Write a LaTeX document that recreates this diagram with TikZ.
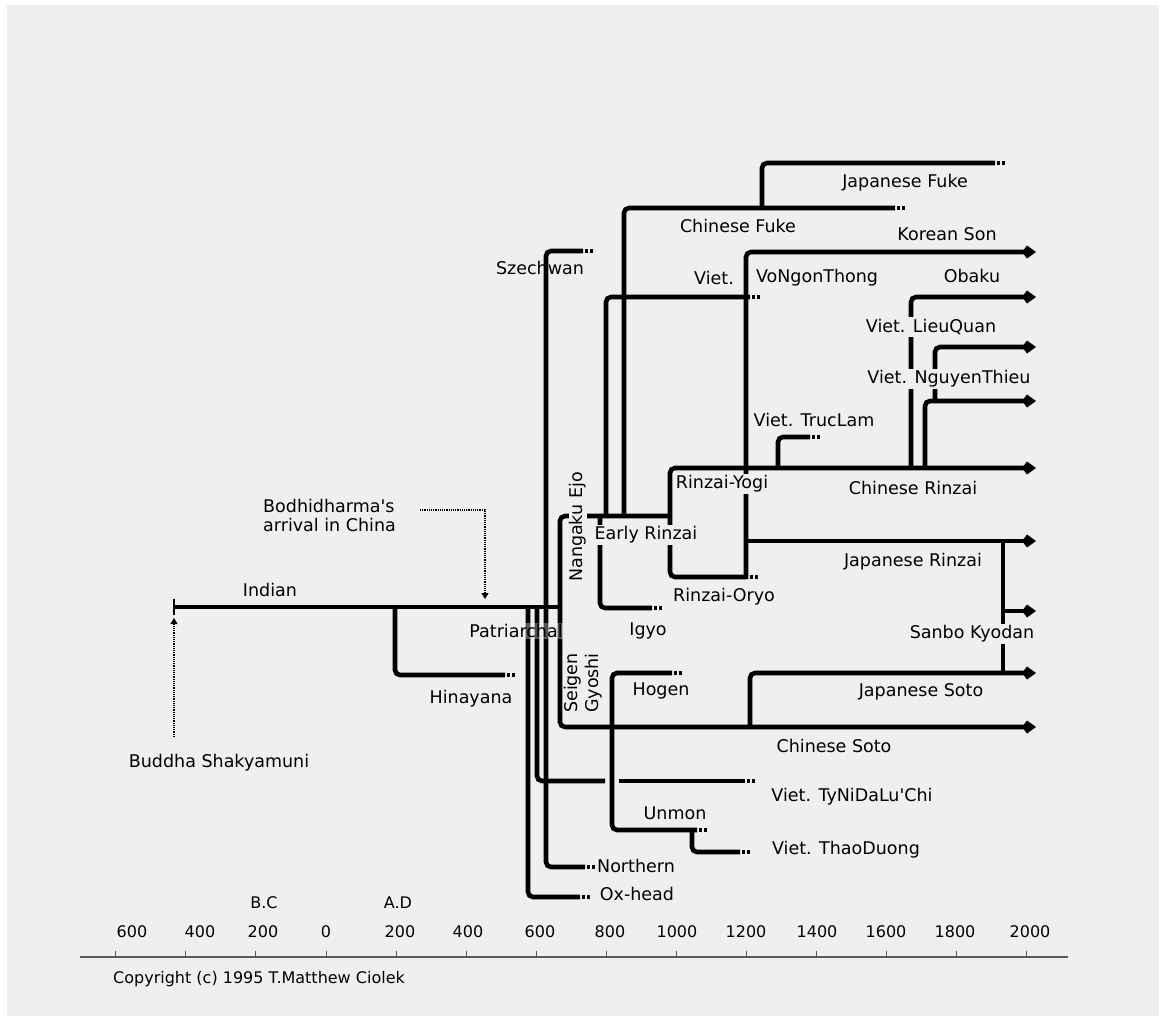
\documentclass[tikz,border=0pt]{standalone}
\usepackage{fontspec}
\setmainfont{DejaVu Sans}
\usetikzlibrary{arrows.meta}
\definecolor{bg}{HTML}{EFEFEF}
\newcommand\lblfont{\fontsize{17.5}{19}\selectfont}
\newcommand\axfont{\fontsize{16}{18}\selectfont}
\begin{document}
\begin{tikzpicture}[x=1pt,y=-1pt,
  lin/.style={line width=4.6pt, rounded corners=5pt},
  arr/.style={lin, -{Kite[length=14pt,width=13pt,inset=5pt]}},
  dotsty/.style={line width=4.6pt, dash pattern=on 0pt off 2pt on 3pt off 2pt on 3pt off 40pt},
  guide/.style={line width=1.2pt, densely dotted, -{Triangle[length=6pt,width=7pt]}},
  lbl/.style={font=\lblfont, inner sep=1pt, text=black},
  lblf/.style={lbl, fill=bg, inner sep=2pt},
  tlbl/.style={font=\axfont, inner sep=1pt}]
\useasboundingbox (0,0) rectangle (1165,1022);
\fill[white] (0,0) rectangle (1165,1022);
\fill[bg] (7,5) rectangle (1159,1016);

% ---- Indian trunk ----
\coordinate (buddha) at (174,607);
\draw[lin] (buddha) -- (560,607);
\draw[line width=2pt] (174,599) -- (174,615);
\coordinate (buddhaLow) at (174,737);
\draw[guide] (buddhaLow) -- (174,618);
\coordinate (bodhiStart) at (420,510);
\draw[guide] (bodhiStart) -- (485,510) -- (485,599);

% Hinayana
\draw[lin] (395,607) -- (395,675) -- (505,675);
\draw[dotsty] (505,675) -- ++(12,0);

% Szechwan / Northern
\draw[lin] (546,607) -- (546,251) -- (583,251);
\draw[dotsty] (583,251) -- ++(12,0);
\draw[lin] (546,607) -- (546,867) -- (585,867);
\draw[dotsty] (585,867) -- ++(12,0);
% Ox-head
\draw[lin] (528,607) -- (528,897) -- (580,897);
\draw[dotsty] (580,897) -- ++(12,0);
% Viet. TyNiDaLu'Chi
\draw[lin] (537,607) -- (537,781) -- (605,781);
\draw[lin] (619,781) -- (745,781);
\draw[dotsty] (745,781) -- ++(12,0);

% Nangaku / Seigen -> Early Rinzai & Chinese Soto
\draw[arr] (670,516) -- (560,516) -- (560,727) -- (1036,727);
% Igyo
\draw[lin] (600,516) -- (600,608) -- (652,608);
\draw[dotsty] (652,608) -- ++(12,0);
% Viet. VoNgonThong
\draw[lin] (606,516) -- (606,297) -- (750,297);
\draw[dotsty] (750,297) -- ++(12,0);
% Chinese Fuke / Japanese Fuke
\draw[lin] (624,516) -- (624,208) -- (895,208);
\draw[dotsty] (895,208) -- ++(12,0);
\draw[lin] (762,208) -- (762,163) -- (995,163);
\draw[dotsty] (995,163) -- ++(12,0);

% Early Rinzai block: Rinzai-Oryo & Rinzai-Yogi / Chinese Rinzai
\draw[arr] (746,577) -- (670,577) -- (670,468) -- (1036,468);
\draw[dotsty] (748,577) -- ++(12,0);
% Korean Son (vertical at 746)
\draw[arr] (746,579) -- (746,252) -- (1036,252);
% Japanese Rinzai
\draw[arr] (746,541) -- (1036,541);
% Viet. TrucLam
\draw[lin] (778,468) -- (778,437) -- (810,437);
\draw[dotsty] (810,437) -- ++(12,0);
% Obaku, LieuQuan, NguyenThieu
\draw[arr] (911,468) -- (911,297) -- (1036,297);
\draw[arr] (925,468) -- (925,401) -- (1036,401);
\draw[arr] (935,401) -- (935,347) -- (1036,347);
% Sanbo Kyodan
\draw[lin] (1003,541) -- (1003,673);
\draw[arr] (1001,611) -- (1036,611);
% Japanese Soto
\draw[arr] (750,727) -- (750,673) -- (1036,673);
% Hogen / Unmon / ThaoDuong
\draw[lin] (672,673) -- (612,673) -- (612,830) -- (697,830);
\draw[dotsty] (672,673) -- ++(12,0);
\draw[dotsty] (697,830) -- ++(12,0);
\draw[lin] (692,830) -- (692,852) -- (740,852);
\draw[dotsty] (740,852) -- ++(12,0);

% ---- labels ----
\node[lbl] (lIndian) at (270,590) {Indian};
\node[lbl] (lBuddha) at (219,763) {Buddha Shakyamuni};
\node[lbl, align=left, anchor=west] (lBodhi) at (262,515) {Bodhidharma\textquotesingle s\\arrival in China};
\node[lbl] (lHina) at (471,699) {Hinayana};
\node[lbl, fill=bg, fill opacity=0.35, text opacity=1] (lPatr) at (516,631) {Patriarchal};
\node[lbl] (lSzech) at (540,268) {Szechwan};
\node[lbl] (lNorth) at (636,866) {Northern};
\node[lbl] (lOx) at (637,894) {Ox-head};
\node[lbl] (lTyNi) at (852,797) {Viet. TyNiDaLu\textquotesingle Chi};
\node[lbl] (lUnmon) at (675,813) {Unmon};
\node[lbl] (lThao) at (846,850) {Viet. ThaoDuong};
\node[lbl] (lHogen) at (661,691) {Hogen};
\node[lbl] (lCSoto) at (834,746) {Chinese Soto};
\node[lbl] (lJSoto) at (921,692) {Japanese Soto};
\node[lblf] (lSanbo) at (972,634) {Sanbo Kyodan};
\node[lbl] (lJRinzai) at (913,562) {Japanese Rinzai};
\node[lbl] (lIgyo) at (648,631) {Igyo};
\node[lbl] (lOryo) at (724,597) {Rinzai-Oryo};
\node[lblf] (lEarly) at (646,535) {Early Rinzai};
\node[lblf] (lYogi) at (722,484) {Rinzai-Yogi};
\node[lbl] (lCRinzai) at (913,488) {Chinese Rinzai};
\node[lbl] (lTruc) at (814,420) {Viet. TrucLam};
\node[lblf] (lNguyen) at (949,379) {Viet. NguyenThieu};
\node[lblf] (lLieu) at (931,327) {Viet. LieuQuan};
\node[lbl] (lObaku) at (972,276) {Obaku};
\node[lbl] (lViet) at (714,278) {Viet.};
\node[lbl] (lVoNgon) at (817,278) {VoNgonThong};
\node[lbl] (lKorean) at (947,234) {Korean Son};
\node[lbl] (lCFuke) at (738,226) {Chinese Fuke};
\node[lbl] (lJFuke) at (905,183) {Japanese Fuke};
\node[lblf, rotate=90, inner sep=1pt] (lNangaku) at (578,527) {Nangaku Ejo};
\node[lbl, rotate=90] (lSeigen) at (573,683) {Seigen};
\node[lbl, rotate=90] (lGyoshi) at (594,683) {Gyoshi};

% ---- time axis ----
\draw[line width=1.6pt, black!65] (80,957) -- (1068,957);
\foreach \yr/\lx/\txt in {-600/132/600,-400/200/400,-200/263/200,0/326/0,200/400/200,400/468/400,600/540/600,800/610/800,1000/677/1000,1200/746/1200,1400/817/1400,1600/886/1600,1800/955/1800,2000/1030/2000}{
  \draw[line width=1pt, black!65] ({326+0.3505*\yr},951) -- ({326+0.3505*\yr},958);
  \node[tlbl] at (\lx,932) {\txt};
}
\node[tlbl] (lBC) at (264,903) {B.C};
\node[tlbl] (lAD) at (398,903) {A.D};
\node[tlbl, anchor=west] (lCopy) at (112,979) {Copyright (c) 1995 T.Matthew Ciolek};
\end{tikzpicture}
\end{document}
